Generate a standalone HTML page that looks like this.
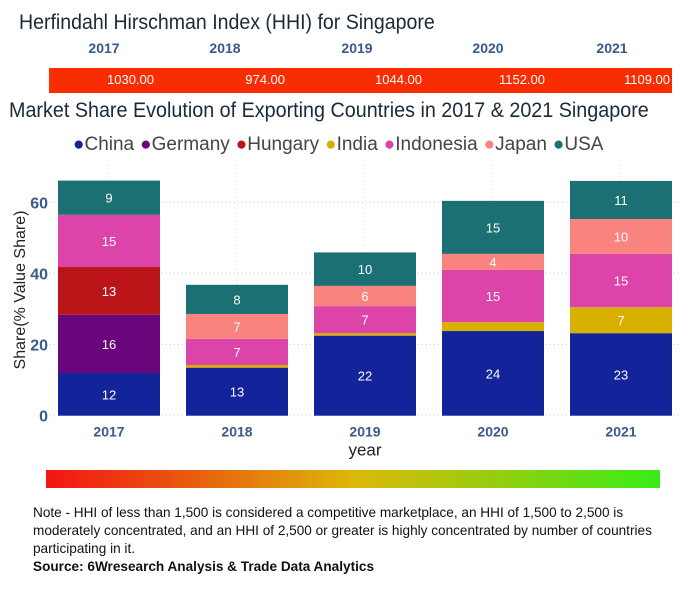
<!DOCTYPE html>
<html><head><meta charset="utf-8"><style>
body{margin:0;width:697px;height:600px;background:#fff;position:relative;overflow:hidden;font-family:"Liberation Sans",sans-serif}
.a{position:absolute;white-space:nowrap}
</style></head><body>
<div class="a" style="left:19px;top:11px;font-size:21px;color:#1a2a3a;transform:scaleX(0.93);transform-origin:left">Herfindahl Hirschman Index (HHI) for Singapore</div>
<div id="hhi"></div>
<div class="a" style="left:9px;top:99px;font-size:21px;color:#1a2a3a;transform:scaleX(0.94);transform-origin:left">Market Share Evolution of Exporting Countries in 2017 &amp; 2021 Singapore</div>
<div class="a" style="left:73px;top:134px;font-size:19px;color:#444" id="legend"></div>
<svg class="a" id="chart" style="left:0;top:160px" width="697" height="300"></svg>
<div class="a" style="left:46px;top:470px;width:614px;height:18px;background:linear-gradient(to right,#f41414,#e86010 25%,#dcb808 50%,#90d010 75%,#38ec18)"></div>
<div class="a" style="left:33px;top:504px;font-size:13.6px;line-height:18px;color:#111;white-space:normal;width:650px">Note - HHI of less than 1,500 is considered a competitive marketplace, an HHI of 1,500 to 2,500 is moderately concentrated, and an HHI of 2,500 or greater is highly concentrated by number of countries participating in it.<br><b>Source: 6Wresearch Analysis &amp; Trade Data Analytics</b></div>
<script>
const years=["2017","2018","2019","2020","2021"];
const hhiValues=["1030.00","974.00","1044.00","1152.00","1109.00"];
const seriesNames=["China","Germany","Hungary","India","Indonesia","Japan","USA"];
const seriesColors=["#13239a","#6a067c","#bc1519","#d8b000","#dd44aa","#f8837f","#1a7072"];
const china=[12,13.5,22.5,23.8,23.2];
const germany=[16.4,0,0,0,0];
const hungary=[13.4,0,0,0,0];
const india=[0,0.75,0.7,2.5,7.3];
const indonesia=[14.7,7.35,7.6,14.7,15];
const japan=[0,7,5.7,4.5,9.8];
const usa=[9.6,8.2,9.4,14.9,10.7];
const labels=[[12,16,13,null,15,null,9],[13,null,null,null,7,7,8],[22,null,null,null,7,6,10],[24,null,null,null,15,4,15],[23,null,null,7,15,10,11]];
const yTicks=[0,20,40,60];
const series=[china,germany,hungary,india,indonesia,japan,usa];
// HHI table
const hhi=document.getElementById('hhi');
const yc=[104,225,357,488,612], ve=[154,285,422,545,670];
const bar=document.createElement('div');bar.className='a';


bar.style.cssText='left:49px;top:68px;width:623px;height:25px;background:#fa2d02';hhi.appendChild(bar);
years.forEach((y,i)=>{
 const d=document.createElement('div');d.className='a';
 
 
 d.style.cssText=`left:${yc[i]-30}px;width:60px;text-align:center;top:40px;font-size:14px;font-weight:bold;color:#3a5a88`;d.textContent=y;hhi.appendChild(d);
 const v=document.createElement('div');v.className='a';
 
 
 v.style.cssText=`left:${ve[i]-80}px;width:80px;text-align:right;top:72px;font-size:13px;color:#fff`;v.textContent=hhiValues[i];hhi.appendChild(v);
});
// legend
const lg=document.getElementById('legend');
seriesNames.forEach((n,i)=>{const s=document.createElement('span');
 
 
 s.style.marginRight='6px';
 s.innerHTML=`<span style="color:${seriesColors[i]};font-size:19px">●</span>${n}`;lg.appendChild(s);});
// chart (svg top=160)
const svg=document.getElementById('chart'),NS='http://www.w3.org/2000/svg';
const y0=255.7, py=3.557;
const Y=v=>y0-v*py;
const X=i=>58+i*128;
function el(t,a,p){const e=document.createElementNS(NS,t);for(const k in a)e.setAttribute(k,a[k]);(p||svg).appendChild(e);return e;}
yTicks.forEach(t=>{
 const g=el('line',{x1:50,x2:680,y1:Y(t),y2:Y(t),stroke:'#ccc','stroke-dasharray':'1,3'});
 
 
 const tx=el('text',{x:48,y:Y(t)+6,'text-anchor':'end','font-size':16,'font-weight':'bold',fill:'#3a5a88'});tx.textContent=t;
 
 
});
years.forEach((yr,i)=>{
 const vl=el('line',{x1:X(i)+51,x2:X(i)+51,y1:0,y2:y0,stroke:'#ddd','stroke-dasharray':'1,3'});
 
 
});
years.forEach((yr,i)=>{
 let acc=0;
 series.forEach((s,k)=>{const v=s[i];if(!v)return;
  const r=el('rect',{x:X(i),width:102,y:Y(acc+v),height:v*py,fill:seriesColors[k]});
  
  
  const lb=labels[i][k];
  if(lb!=null){const t=el('text',{x:X(i)+51,y:Y(acc+v/2)+5,'text-anchor':'middle','font-size':13,fill:'#fff'});t.textContent=lb;
   
   }
  acc+=v;});
 const t=el('text',{x:X(i)+51,y:y0+21,'text-anchor':'middle','font-size':14,'font-weight':'bold',fill:'#3a5a88'});t.textContent=yr;
 
 
});
const xt=el('text',{x:365,y:y0+40,'text-anchor':'middle','font-size':17,fill:'#222'});xt.textContent='year';


const yt=el('text',{x:0,y:0,transform:'translate(25,130) rotate(-90)','text-anchor':'middle','font-size':16,fill:'#222'});yt.textContent='Share(% Value Share)';


</script>
</body></html>
